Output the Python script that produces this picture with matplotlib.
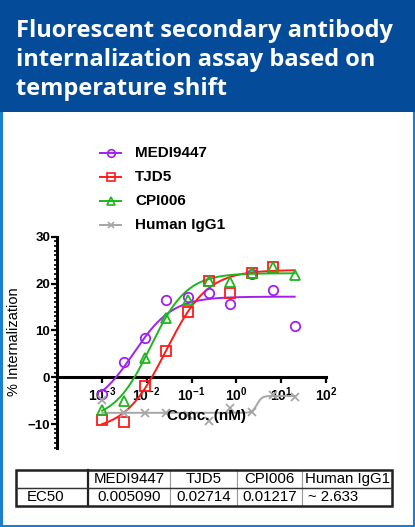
import matplotlib

matplotlib.use("Agg")
import matplotlib.pyplot as plt
import numpy as np
from matplotlib.patches import Rectangle
from matplotlib.ticker import FixedLocator, MultipleLocator

plt.rcParams["font.family"] = ["Liberation Sans", "DejaVu Sans"]
plt.rcParams["mathtext.fontset"] = "custom"
plt.rcParams["mathtext.bf"] = "Liberation Sans:bold"
plt.rcParams["mathtext.rm"] = "Liberation Sans:bold"

# ---------------------------------------------------------------- data
title_lines = [
    "Fluorescent secondary antibody",
    "internalization assay based on",
    "temperature shift",
]
conc = [0.001016, 0.003048, 0.009145, 0.02743, 0.08230, 0.2469, 0.7407, 2.222, 6.667, 20.0]

names = ["MEDI9447", "TJD5", "CPI006", "Human IgG1"]
medi = [-3.5, 3.3, 8.4, 16.5, 17.1, 18.0, 15.7, 22.1, 18.7, 10.9]
tjd5 = [-9.1, -9.6, -1.9, 5.5, 14.0, 20.6, 18.0, 22.3, 23.5, np.nan]
cpi = [-6.9, -5.1, 4.1, 12.6, 16.5, 20.6, 20.3, 22.3, 23.5, 21.9]
igg = [-4.9, -7.6, -7.6, -7.6, -8.0, -9.4, -6.5, -7.4, -3.8, -4.3]

# 4PL fit params: bottom, top, EC50, hill
fit_medi = (-7.0, 17.2, 0.005090, 1.0)
fit_tjd5 = (-11.5, 22.9, 0.02714, 0.94)
fit_cpi = (-9.2, 22.2, 0.01217, 1.07)
fit_igg = (-7.6, -4.0, 2.9, 8.0)

table_cols = ["", "MEDI9447", "TJD5", "CPI006", "Human IgG1"]
table_row = ["EC50", "0.005090", "0.02714", "0.01217", "~ 2.633"]

colors = ["#a020f0", "#ff1a1a", "#1fb51f", "#a6a6a6"]
markers = ["o", "s", "^", "x"]


def four_pl(x, bottom, top, ec50, hill):
    return bottom + (top - bottom) / (1 + (ec50 / x) ** hill)


W, H = 415, 527
fig = plt.figure(figsize=(W / 100, H / 100), dpi=100, facecolor="white")

# ---- frame + header
fig.add_artist(Rectangle((0.002, 0.002), 0.996, 0.996, transform=fig.transFigure,
                         fill=False, ec="#1b7fd0", lw=2.2, zorder=10))
fig.add_artist(Rectangle((0, 1 - 112 / H), 1, 112 / H, transform=fig.transFigure,
                         fc="#044c99", ec="none", zorder=11))
for i, line in enumerate(title_lines):
    fig.text(16 / W, 1 - (31 + 29 * i) / H, line, color="white", fontsize=17,
             fontweight="bold", family="Open Sans", va="center", ha="left", zorder=12)

# ---- main plot
ax = fig.add_axes([57 / W, (H - 447.5) / H, 269 / W, 210.8 / H])
ax.patch.set_alpha(0)
ax.set_xscale("log")
ax.set_xlim(1e-4, 1e2)
ax.set_ylim(-15, 30)

xs = np.logspace(np.log10(conc[0]), np.log10(conc[-1]), 300)
series = [medi, tjd5, cpi, igg]
fits = [fit_medi, fit_tjd5, fit_cpi, fit_igg]
for name, ys, p, c, m in zip(names, series, fits, colors, markers):
    ax.plot(xs, four_pl(xs, *p), color=c, lw=1.4, zorder=3, clip_on=False)
    ax.plot(conc, ys, ls="none", marker=m, ms=6.8 if m != "x" else 6,
            mfc="none", mec=c, mew=1.3, zorder=4, clip_on=False)

for s in ("top", "right"):
    ax.spines[s].set_visible(False)
ax.spines["left"].set_linewidth(2.2)
ax.spines["bottom"].set_linewidth(2.2)
ax.spines["bottom"].set_position(("data", 0))

ax.yaxis.set_major_locator(MultipleLocator(10))
ax.yaxis.set_minor_locator(MultipleLocator(1))
ax.set_yticks([-10, 0, 10, 20, 30])
ax.tick_params(axis="y", which="major", length=4, width=1.6, labelsize=9.5, pad=1)
ax.tick_params(axis="y", which="minor", length=2.2, width=1.2)
for lbl in ax.get_yticklabels():
    lbl.set_fontweight("bold")

xt = [1e-3, 1e-2, 1e-1, 1e0, 1e1, 1e2]
ax.xaxis.set_major_locator(FixedLocator(xt))
ax.xaxis.set_minor_locator(FixedLocator([]))
ax.set_xticklabels([rf"$\mathbf{{10^{{{int(np.log10(v))}}}}}$" for v in xt])
ax.tick_params(axis="x", which="major", length=4, width=1.6, labelsize=10, pad=2)

ax.set_ylabel("% Internalization", fontsize=10.5, labelpad=5)
fig.text(206 / W, 1 - 416 / H, "Conc. (nM)", fontsize=11, fontweight="bold",
         ha="center", va="center")

# ---- legend, drawn by hand to match the spacing
for i, (name, c, m) in enumerate(zip(names, colors, markers)):
    y = 1 - (153 + 24 * i) / H
    fig.add_artist(plt.Line2D([100 / W, 121 / W], [y, y], color=c, lw=1.4))
    fig.add_artist(plt.Line2D([110.5 / W], [y], ls="none", marker=m,
                              ms=5.5 if m != "x" else 5, mfc="none", mec=c, mew=1.2))
    fig.text(135 / W, y, name, fontsize=11, fontweight="bold", va="center", ha="left")

# ---- EC50 table
tab_ax = fig.add_axes([16 / W, (H - 506) / H, 376 / W, 36 / H])
tab_ax.axis("off")
col_w = np.array([72, 82, 67, 65, 90], dtype=float)
tbl = tab_ax.table(cellText=[table_cols, table_row], colWidths=list(col_w / col_w.sum()),
                   bbox=[0, 0, 1, 1], cellLoc="center")
tbl.auto_set_font_size(False)
for (r, cidx), cell in tbl.get_celld().items():
    cell.set_edgecolor("#9a9a9a")
    cell.set_linewidth(0.8)
    cell.get_text().set_fontsize(10.8)
    if r == 1 and cidx in (0, 4):
        cell._loc = "left"
        cell.get_text().set_horizontalalignment("left")
        cell.PAD = 0.15 if cidx == 0 else 0.07
tab_ax.add_patch(Rectangle((0, 0), 1, 1, transform=tab_ax.transAxes, fill=False,
                           ec="#222222", lw=1.8, clip_on=False))
tab_ax.plot([72 / 376, 72 / 376], [0, 1], color="#222222", lw=1.6,
            transform=tab_ax.transAxes, clip_on=False)
tab_ax.plot([0, 1], [0.5, 0.5], color="#333333", lw=1.0,
            transform=tab_ax.transAxes, clip_on=False)

fig.savefig("out.png", dpi=100)
